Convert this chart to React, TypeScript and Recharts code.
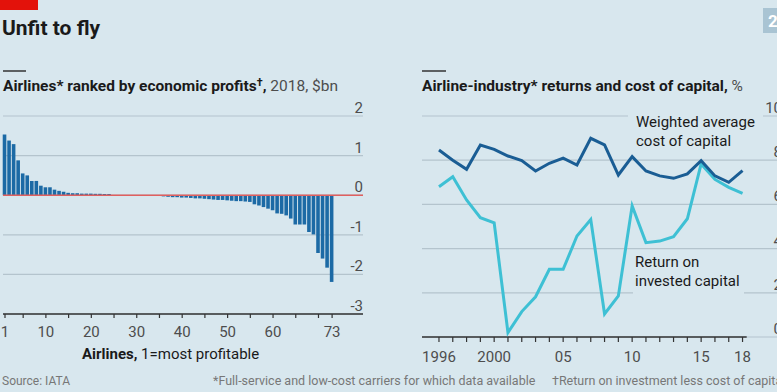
import { BarChart, Bar, LineChart, Line, XAxis, YAxis, CartesianGrid, ReferenceLine } from "recharts";

const ranks = Array.from({ length: 73 }, (_, i) => i + 1);
const profits = [
  1.53, 1.38, 1.29, 0.88, 0.55, 0.5, 0.36, 0.36, 0.24, 0.2, 0.2, 0.14, 0.11, 0.085, 0.06, 0.05, 0.05, 0.04, 0.04, 0.04,
  0.035, 0.035, 0.03, 0.03,
  0, 0, 0, 0, 0, 0, 0, 0, 0, 0,
  -0.02, -0.03, -0.04, -0.05, -0.05, -0.06, -0.06, -0.07, -0.08, -0.08, -0.09, -0.1, -0.11, -0.12, -0.12, -0.13, -0.14,
  -0.15, -0.15, -0.16,
  -0.17, -0.23, -0.26, -0.3, -0.34, -0.38, -0.46, -0.47, -0.51, -0.59, -0.74, -0.74, -0.74, -0.93, -0.99, -1.46, -1.6,
  -1.83, -2.19,
];
const rankTicks = [1, 5, 10, 15, 20, 25, 30, 35, 40, 45, 50, 55, 60, 65, 70, 73];
const rankLabels = [1, 10, 20, 30, 40, 50, 60, 73];
const profitTicks = [-3, -2, -1, 0, 1, 2];

const years = [
  1996, 1997, 1998, 1999, 2000, 2001, 2002, 2003, 2004, 2005, 2006, 2007, 2008, 2009, 2010, 2011, 2012, 2013, 2014,
  2015, 2016, 2017, 2018,
];
const wacc = [
  8.46, 8.0, 7.59, 8.69, 8.49, 8.19, 7.98, 7.51, 7.86, 8.09, 7.78, 8.99, 8.69, 7.33, 8.16, 7.51, 7.29, 7.18, 7.38, 7.98,
  7.29, 7.0, 7.53,
];
const roic = [
  6.8, 7.25, 6.2, 5.4, 5.17, 0.2, 1.15, 1.82, 3.06, 3.06, 4.57, 5.32, 1.04, 1.86, 5.93, 4.27, 4.34, 4.54, 5.35, 7.83,
  7.13, 6.77, 6.5,
];
const yearLabels: Record<number, string> = { 1996: "1996", 2000: "2000", 2005: "05", 2010: "10", 2015: "15", 2018: "18" };
const pctTicks = [0, 2, 4, 6, 8, 10];

const BG = "#d8e7ee";
const GRID = "#b4c4cd";
const TEXT = "#1a1a1a";
const MUTED = "#4d4d4d";
const FONT = "Roboto, sans-serif";

const barData = ranks.map((r, i) => ({ rank: r, value: profits[i] }));
const lineData = years.map((y, i) => ({ year: y, wacc: wacc[i], roic: roic[i] }));

const RankTick = ({ x, y, payload }: any) =>
  rankLabels.includes(payload.value) ? (
    <text x={x} y={y + 19} textAnchor="middle" fill={MUTED} fontSize={15} fontFamily={FONT}>
      {payload.value}
    </text>
  ) : null;

const YearTick = ({ x, y, payload }: any) =>
  yearLabels[payload.value] ? (
    <text x={x} y={y + 20} textAnchor="middle" fill={MUTED} fontSize={15} fontFamily={FONT}>
      {yearLabels[payload.value]}
    </text>
  ) : null;

const RightLabel = ({ x, y, payload }: any) => (
  <text x={x} y={y - 3} textAnchor="end" fill={MUTED} fontSize={15} fontFamily={FONT}>
    {payload.value}
  </text>
);

export default function App() {
  return (
    <div
      style={{
        position: "absolute",
        left: 0,
        top: 0,
        width: 777,
        height: 392,
        background: BG,
        overflow: "hidden",
        fontFamily: FONT,
      }}
    >
      <div style={{ position: "absolute", left: 0, top: 100 }}>
        <BarChart width={370} height={240} data={barData} margin={{ top: 16, right: 6, bottom: 0, left: 3 }}>
          <CartesianGrid vertical={false} stroke={GRID} strokeWidth={1.2} />
          <XAxis
            dataKey="rank"
            type="number"
            domain={[0.56, 79.8]}
            ticks={rankTicks}
            interval={0}
            height={26}
            tickSize={4}
            tickMargin={0}
            axisLine={{ stroke: "#333", strokeWidth: 1.5 }}
            tickLine={{ stroke: "#333", strokeWidth: 1.2 }}
            tick={<RankTick />}
          />
          <YAxis
            orientation="right"
            width={1}
            domain={[-3, 2]}
            ticks={profitTicks}
            axisLine={false}
            tickLine={false}
            tickSize={0}
            tickMargin={0}
            tick={<RightLabel />}
          />
          <Bar dataKey="value" fill="#1c6aa5" barSize={3.6} isAnimationActive={false} />
          <ReferenceLine y={0} stroke="#e0605f" strokeWidth={1.5} />
        </BarChart>
      </div>

      <div style={{ position: "absolute", left: 400, top: 100 }}>
        <LineChart width={400} height={277} data={lineData} margin={{ top: 16, right: 17, bottom: 0, left: 22 }}>
          <CartesianGrid vertical={false} stroke={GRID} strokeWidth={1.2} />
          <XAxis
            dataKey="year"
            type="number"
            domain={[1994.77, 2020.86]}
            ticks={years}
            interval={0}
            height={40}
            tickSize={5}
            tickMargin={0}
            axisLine={false}
            tickLine={{ stroke: "#333", strokeWidth: 1.2 }}
            tick={<YearTick />}
          />
          <YAxis
            orientation="right"
            width={1}
            domain={[0, 10]}
            ticks={pctTicks}
            axisLine={false}
            tickLine={false}
            tickSize={0}
            tickMargin={0}
            tick={<RightLabel />}
          />
          <ReferenceLine
            segment={[
              { x: 1994.77, y: 0 },
              { x: 2018.3, y: 0 },
            ]}
            stroke="#333"
            strokeWidth={1.5}
          />
          <Line dataKey="roic" stroke="#3ec0d4" strokeWidth={3} dot={false} isAnimationActive={false} />
          <Line dataKey="wacc" stroke="#1a5d94" strokeWidth={3} dot={false} isAnimationActive={false} />
        </LineChart>
      </div>

      <svg
        width={777}
        height={392}
        style={{ position: "absolute", left: 0, top: 0, pointerEvents: "none" }}
        fontFamily={FONT}
      >
        <rect x={0} y={0} width={38} height={10} fill="#e3120b" />
        <text x={2} y={35} fontSize={21} fontWeight={700} fill={TEXT}>
          Unfit to fly
        </text>

        <rect x={763} y={8} width={20} height={25} fill="#a9c4d3" />
        <text x={768} y={27} fontSize={17} fontWeight={700} fill="#fff">
          2
        </text>

        <line x1={3} x2={26} y1={71} y2={71} stroke="#333" strokeWidth={1.5} />
        <text x={3} y={91} fontSize={15.5} fill={TEXT}>
          <tspan fontWeight={700}>Airlines* ranked by economic profits</tspan>
          <tspan fontWeight={700} fontSize={11} dy={-5}>
            †
          </tspan>
          <tspan fontWeight={700} dy={5}>
            ,
          </tspan>
          <tspan fill={MUTED}> 2018, $bn</tspan>
        </text>

        <line x1={422} x2={446} y1={71} y2={71} stroke="#333" strokeWidth={1.5} />
        <text x={422} y={91} fontSize={15.5} fill={TEXT}>
          <tspan fontWeight={700}>Airline-industry* returns and cost of capital,</tspan>
          <tspan fill={MUTED}> %</tspan>
        </text>

        <text x={82} y={359} fontSize={15} fill={TEXT}>
          <tspan fontWeight={700}>Airlines,</tspan>
          <tspan> 1=most profitable</tspan>
        </text>

        <rect x={628} y={106} width={135} height={44} fill={BG} />
        <text x={636} y={127} fontSize={15} fill={TEXT}>
          Weighted average
        </text>
        <text x={636} y={146} fontSize={15} fill={TEXT}>
          cost of capital
        </text>

        <rect x={633} y={251} width={111} height={47} fill={BG} />
        <text x={635} y={267} fontSize={15} fill={TEXT}>
          Return on
        </text>
        <text x={635} y={286} fontSize={15} fill={TEXT}>
          invested capital
        </text>

        <text x={2} y={385} fontSize={12} fill="#777">
          Source: IATA
        </text>
        <text x={213} y={385} fontSize={12.5} fill="#777">
          *Full-service and low-cost carriers for which data available
        </text>
        <text x={552} y={385} fontSize={12.5} fill="#777">
          †Return on investment less cost of capital
        </text>
      </svg>
    </div>
  );
}
